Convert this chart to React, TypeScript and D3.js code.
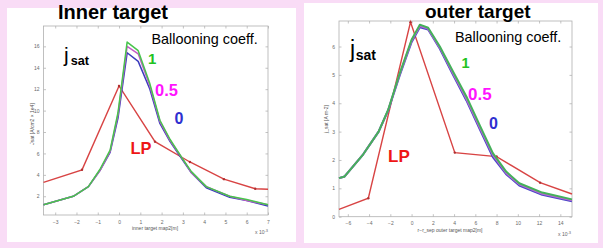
import { useEffect, useRef } from "react";
import * as d3 from "d3";

// inner target (x in 1e-3 m, jsat in arb. units)
const innerX = [-3.55, -2.15, -1.44, -0.9, -0.42, -0.05, 0.38, 0.9, 1.45, 1.92, 2.4, 2.95, 3.4, 4.1, 5.2, 6.0, 7.0];
const innerB1 = [1.2, 2.0, 2.9, 4.5, 6.3, 9.8, 16.4, 15.6, 12.5, 9.1, 7.3, 5.6, 4.3, 2.9, 2.0, 1.7, 1.2];
const innerB05 = [1.2, 2.0, 2.9, 4.4, 6.2, 9.6, 16.0, 15.3, 12.3, 9.0, 7.2, 5.6, 4.2, 2.9, 2.0, 1.6, 1.2];
const innerB0 = [1.2, 2.0, 2.9, 4.4, 6.1, 9.3, 15.4, 14.6, 12.0, 8.8, 7.1, 5.5, 4.2, 2.8, 1.9, 1.6, 1.1];
const innerLpX = [-3.55, -1.74, 0, 1.69, 3.33, 4.93, 6.4, 7.0];
const innerLpY = [3.3, 4.47, 12.3, 7.1, 5.2, 3.6, 2.7, 2.65];
const innerXTicks = [-3, -2, -1, 0, 1, 2, 3, 4, 5, 6, 7];
const innerYTicks = [2, 4, 6, 8, 10, 12, 14, 16];

// outer target
const outerX = [-6.83, -6.3, -4.55, -3.1, -2.2, -1.1, 0, 0.78, 1.56, 2.66, 3.9, 5.16, 6.4, 7.65, 8.9, 10.14, 12.3, 15.1];
const outerB1 = [1.36, 1.42, 2.2, 3.0, 3.77, 5.07, 6.24, 6.77, 6.66, 6.0, 5.12, 4.24, 3.24, 2.24, 1.59, 1.18, 0.85, 0.61];
const outerB05 = [1.36, 1.42, 2.2, 3.0, 3.76, 5.04, 6.2, 6.72, 6.63, 5.96, 5.06, 4.16, 3.16, 2.18, 1.54, 1.14, 0.81, 0.58];
const outerB0 = [1.36, 1.42, 2.2, 3.0, 3.75, 5.0, 6.15, 6.68, 6.6, 5.92, 5.0, 4.1, 3.1, 2.1, 1.5, 1.1, 0.77, 0.54];
const outerLpX = [-6.83, -4.07, -0.1, 4.07, 8.0, 12.1, 15.1];
const outerLpY = [0.26, 0.65, 6.86, 2.26, 2.12, 1.2, 0.8];
const outerXTicks = [-6, -4, -2, 0, 2, 4, 6, 8, 10, 12, 14];
const outerYTicks = [0, 1, 2, 3, 4, 5, 6];

const FONT = "'Liberation Sans', Arial, sans-serif";

const panels = [
  {
    white: [7, 8, 289, 234],
    xDomain: [-3.55, 7],
    xRange: [43.5, 268],
    yDomain: [0.25, 17.9],
    yRange: [215, 26],
    xTicks: innerXTicks,
    yTicks: innerYTicks,
    lineW: 1.5,
    // drawn back to front: 0, 0.5, 1
    series: [
      { xs: innerX, ys: innerB0, color: "#3b3bbd" },
      { xs: innerX, ys: innerB05, color: "#c45ac8" },
      { xs: innerX, ys: innerB1, color: "#48c44c" },
    ],
    lp: { xs: innerLpX, ys: innerLpY },
    title: { text: "Inner target", x: 58, y: 18.5, size: 20 },
    jsat: { x: 64, y: 61.5, j: 21, sat: 12.7, dx: 2 },
    legend: { x: 151.5, y: 44, size: 14.4 },
    labels: [
      { t: "1", x: 148, y: 64, c: "#22c322", s: 15 },
      { t: "0.5", x: 155, y: 95.7, c: "#ff14ff", s: 16.5 },
      { t: "0", x: 174.5, y: 124, c: "#2f2fd0", s: 16 },
      { t: "LP", x: 130.5, y: 154.3, c: "#ee1616", s: 16.4 },
    ],
    xLabel: { t: "inner target map2[m]", x: 155 },
    yLabel: { t: "Jsat [A/cm2 × 1e4]", x: 34, y: 124 },
    exp: 255,
  },
  {
    white: [304, 3, 294, 240],
    xDomain: [-6.83, 15.1],
    xRange: [339, 572],
    yDomain: [0, 6.9],
    yRange: [216.7, 21],
    xTicks: outerXTicks,
    yTicks: outerYTicks,
    lineW: 2,
    series: [
      { xs: outerX, ys: outerB0, color: "#4a46c8" },
      { xs: outerX, ys: outerB05, color: "#b66ad0" },
      { xs: outerX, ys: outerB1, color: "#45b15a" },
    ],
    lp: { xs: outerLpX, ys: outerLpY },
    title: { text: "outer target", x: 425, y: 17.5, size: 19 },
    jsat: { x: 350, y: 56.5, j: 23, sat: 14, dx: 0.5 },
    legend: { x: 455, y: 41.5, size: 14.4 },
    labels: [
      { t: "1", x: 461.5, y: 68, c: "#22c322", s: 14.5 },
      { t: "0.5", x: 468, y: 100, c: "#ff14ff", s: 17 },
      { t: "0", x: 489, y: 128.5, c: "#2f2fd0", s: 16 },
      { t: "LP", x: 388, y: 161.7, c: "#ee1616", s: 17 },
    ],
    xLabel: { t: "r−r_sep  outer target map2[m]", x: 450 },
    yLabel: { t: "j_sat [A m-2]", x: 328, y: 119 },
    exp: 558,
  },
];

const App = () => {
  const ref = useRef<SVGSVGElement>(null);

  useEffect(() => {
    const svg = d3.select(ref.current);
    svg.selectAll("*").remove();

    svg.append("rect").attr("width", 603).attr("height", 248).attr("fill", "#f9dcf6");

    panels.forEach((p: any) => {
      const x = d3.scaleLinear().domain(p.xDomain).range(p.xRange);
      const y = d3.scaleLinear().domain(p.yDomain).range(p.yRange);
      const g = svg.append("g");

      g.append("rect")
        .attr("x", p.white[0])
        .attr("y", p.white[1])
        .attr("width", p.white[2])
        .attr("height", p.white[3])
        .attr("fill", "white");

      // axes, MATLAB style: ticks inward on all four sides
      const styleAxis = (a: any) => {
        a.select(".domain").remove();
        a.selectAll("line").attr("stroke", "#9a9a9a").attr("stroke-width", 0.6);
        a.selectAll("text").attr("fill", "#6a6a6a").style("font-size", "5px").style("font-family", FONT);
      };
      g.append("g")
        .attr("transform", `translate(0,${p.yRange[0]})`)
        .call(d3.axisBottom(x).tickValues(p.xTicks).tickSize(-2.5).tickPadding(5).tickFormat(d3.format("d")) as any)
        .call(styleAxis);
      g.append("g")
        .attr("transform", `translate(0,${p.yRange[1]})`)
        .call(d3.axisTop(x).tickValues(p.xTicks).tickSize(-2.5).tickFormat(() => "") as any)
        .call(styleAxis);
      g.append("g")
        .attr("transform", `translate(${p.xRange[0]},0)`)
        .call(d3.axisLeft(y).tickValues(p.yTicks).tickSize(-2.5).tickPadding(4).tickFormat(d3.format("d")) as any)
        .call(styleAxis);
      g.append("g")
        .attr("transform", `translate(${p.xRange[1]},0)`)
        .call(d3.axisRight(y).tickValues(p.yTicks).tickSize(-2.5).tickFormat(() => "") as any)
        .call(styleAxis);

      g.append("rect")
        .attr("x", p.xRange[0])
        .attr("y", p.yRange[1])
        .attr("width", p.xRange[1] - p.xRange[0])
        .attr("height", p.yRange[0] - p.yRange[1])
        .attr("fill", "none")
        .attr("stroke", "#b0b0b0")
        .attr("stroke-width", 0.8);

      // LP line with dot markers
      const lpPts = p.lp.xs.map((v: number, i: number) => [v, p.lp.ys[i]]);
      const line = d3
        .line<number[]>()
        .x((d) => x(d[0]))
        .y((d) => y(d[1]));
      g.append("path")
        .attr("d", line(lpPts))
        .attr("fill", "none")
        .attr("stroke", "#d84444")
        .attr("stroke-width", 1.4);
      g.selectAll(null)
        .data(lpPts.slice(1, -1))
        .join("circle")
        .attr("cx", (d: any) => x(d[0]))
        .attr("cy", (d: any) => y(d[1]))
        .attr("r", 1.2)
        .attr("fill", "#b03030");

      p.series.forEach((s: any) => {
        const pts = s.xs.map((v: number, i: number) => [v, s.ys[i]]);
        g.append("path")
          .attr("d", line(pts))
          .attr("fill", "none")
          .attr("stroke", s.color)
          .attr("stroke-width", p.lineW)
          .attr("stroke-linejoin", "round");
      });

      // texts
      g.append("text")
        .attr("x", p.title.x)
        .attr("y", p.title.y)
        .attr("font-family", FONT)
        .attr("font-weight", "bold")
        .attr("font-size", p.title.size)
        .text(p.title.text);

      const js = g.append("text").attr("x", p.jsat.x).attr("y", p.jsat.y).attr("font-family", FONT);
      js.append("tspan").attr("font-size", p.jsat.j).text("j");
      js.append("tspan")
        .attr("font-size", p.jsat.sat)
        .attr("font-weight", "bold")
        .attr("dx", p.jsat.dx)
        .attr("dy", 3)
        .text("sat");

      g.append("text")
        .attr("x", p.legend.x)
        .attr("y", p.legend.y)
        .attr("font-family", FONT)
        .attr("font-size", p.legend.size)
        .text("Ballooning coeff.");

      p.labels.forEach((l: any) => {
        g.append("text")
          .attr("x", l.x)
          .attr("y", l.y)
          .attr("font-family", FONT)
          .attr("font-weight", "bold")
          .attr("font-size", l.s)
          .attr("fill", l.c)
          .text(l.t);
      });

      g.append("text")
        .attr("x", p.xLabel.x)
        .attr("y", p.yRange[0] + 15)
        .attr("text-anchor", "middle")
        .attr("font-family", FONT)
        .attr("font-size", 5)
        .attr("fill", "#555")
        .text(p.xLabel.t);

      const ex = g.append("text")
        .attr("x", p.exp)
        .attr("y", p.yRange[0] + 19)
        .attr("font-family", FONT)
        .attr("font-size", 5)
        .attr("fill", "#666");
      ex.append("tspan").text("x 10");
      ex.append("tspan").attr("dy", -2).attr("font-size", 4).text("-3");

      g.append("text")
        .attr("transform", `translate(${p.yLabel.x},${p.yLabel.y}) rotate(-90)`)
        .attr("text-anchor", "middle")
        .attr("font-family", FONT)
        .attr("font-size", 5)
        .attr("fill", "#555")
        .text(p.yLabel.t);
    });
  });

  return (
    <div style={{ position: "absolute", left: 0, top: 0 }}>
      <svg ref={ref} width={603} height={248} style={{ display: "block" }}></svg>
    </div>
  );
};

export default App;
